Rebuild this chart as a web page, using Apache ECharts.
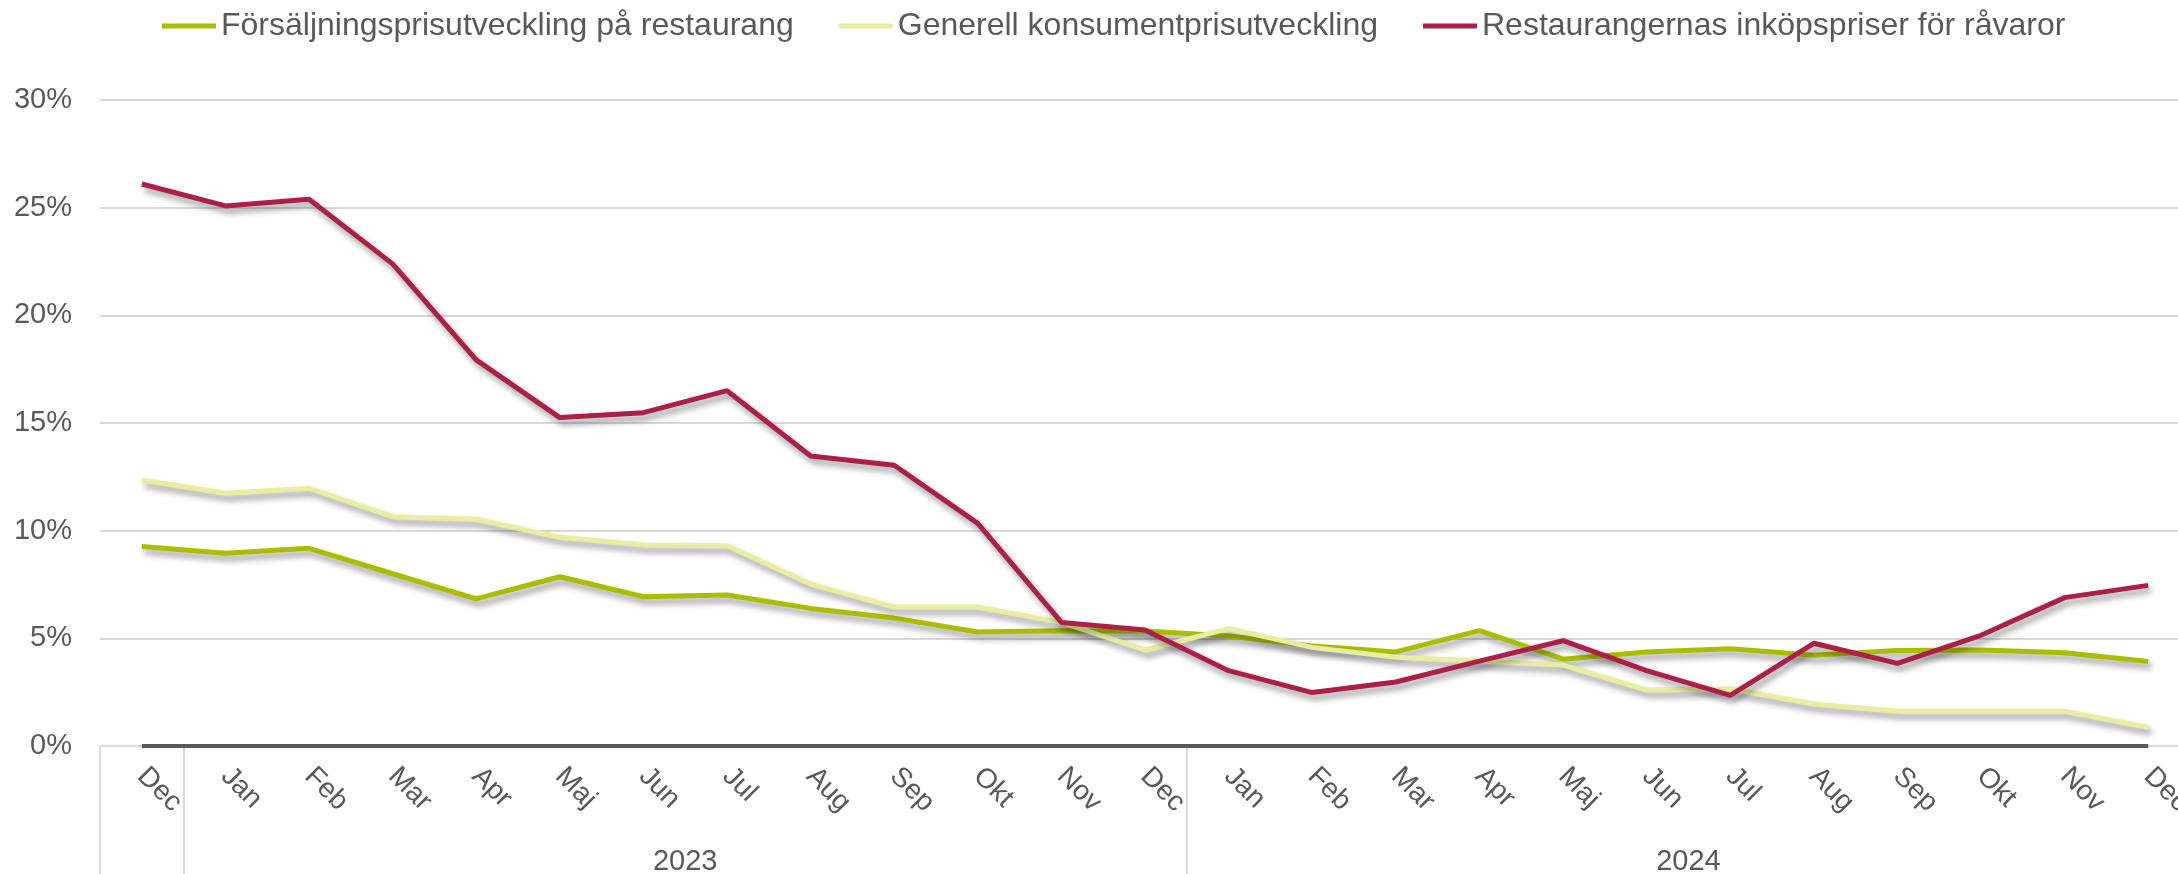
<!DOCTYPE html>
<html>
<head>
<meta charset="utf-8">
<script src="https://cdn.jsdelivr.net/npm/echarts@6/dist/echarts.min.js"></script>
<style>
  html, body { margin: 0; padding: 0; background: #fff; }
  #chart { width: 2178px; height: 874px; }
</style>
</head>
<body>
<div id="chart"></div>
<script>
// månader dec 2022 - dec 2024
const months = ['Dec', 'Jan', 'Feb', 'Mar', 'Apr', 'Maj', 'Jun', 'Jul', 'Aug', 'Sep', 'Okt', 'Nov', 'Dec',
  'Jan', 'Feb', 'Mar', 'Apr', 'Maj', 'Jun', 'Jul', 'Aug', 'Sep', 'Okt', 'Nov', 'Dec'];
const years = ['2023', '2024'];

const forsaljning = [9.26, 8.95, 9.18, 8.0, 6.83, 7.86, 6.93, 7.01, 6.39, 5.94, 5.29, 5.35, 5.34,
  5.11, 4.64, 4.37, 5.36, 4.03, 4.37, 4.52, 4.21, 4.43, 4.46, 4.33, 3.92];
const konsument = [12.35, 11.74, 11.97, 10.65, 10.53, 9.69, 9.34, 9.3, 7.52, 6.45, 6.45, 5.74, 4.46,
  5.45, 4.58, 4.12, 3.95, 3.76, 2.6, 2.66, 1.95, 1.61, 1.61, 1.61, 0.87];
const ravaror = [26.1, 25.08, 25.39, 22.39, 17.93, 15.25, 15.48, 16.5, 13.47, 13.04, 10.34, 5.74, 5.39,
  3.5, 2.48, 2.97, 3.94, 4.89, 3.5, 2.35, 4.77, 3.84, 5.14, 6.89, 7.46];

const names = ['Försäljningsprisutveckling på restaurang', 'Generell konsumentprisutveckling', 'Restaurangernas inköpspriser för råvaror'];
const colors = ['#A8BE00', '#E8EEA0', '#AD1F47'];

// var börjar varje år (första januari)
let yearStart = [];
months.forEach((m, i) => { if (m === 'Jan') yearStart.push(i); });
const yearCenters = yearStart.map(i => i + 5.5);
const yearBounds = [-0.5].concat(yearStart.map(i => i - 0.5));

const font = 'Liberation Sans, Arial, sans-serif';
const textColor = '#595959';

let chart = echarts.init(document.getElementById('chart'));

function lineSeries(name, data, color) {
  return {
    name: name,
    type: 'line',
    data: data,
    symbol: 'none',
    xAxisIndex: 0,
    lineStyle: {
      color: color,
      width: 5,
      shadowColor: 'rgba(0,0,0,0.4)',
      shadowBlur: 6,
      shadowOffsetX: 3,
      shadowOffsetY: 5
    },
    itemStyle: { color: color }
  };
}

let series = [
  lineSeries(names[0], forsaljning, colors[0]),
  lineSeries(names[1], konsument, colors[1]),
  lineSeries(names[2], ravaror, colors[2])
];
series[0].markLine = {
  silent: true,
  symbol: 'none',
  label: { show: false },
  lineStyle: { color: '#595959', width: 4, type: 'solid', shadowBlur: 0 },
  data: [[{ coord: [0, 0] }, { coord: [months.length - 1, 0] }]]
};

let option = {
  animation: false,
  textStyle: { fontFamily: font },
  legend: {
    top: 5,
    left: 157,
    itemGap: 45,
    itemWidth: 54,
    itemHeight: 5,
    icon: 'rect',
    textStyle: { fontSize: 32, color: textColor, fontFamily: font },
    data: names
  },
  // plotytan går lite utanför högerkanten, som i originalet
  grid: { left: 100, right: -12, top: 100, bottom: 128, containLabel: false, outerBoundsMode: 'none' },
  xAxis: [{
    type: 'category',
    data: months,
    boundaryGap: true,
    axisLine: { show: false },
    axisTick: { show: false },
    axisLabel: {
      rotate: -45,
      margin: 26,
      fontSize: 28,
      color: textColor,
      fontFamily: font,
      interval: 0
    }
  }, {
    type: 'value',
    position: 'bottom',
    min: -0.5,
    max: months.length - 0.5,
    axisLine: { show: false },
    splitLine: { show: false },
    axisTick: {
      show: true,
      length: 140,
      customValues: yearBounds,
      lineStyle: { color: '#d9d9d9', width: 2 }
    },
    axisLabel: {
      customValues: yearCenters,
      margin: 101,
      fontSize: 29,
      color: textColor,
      fontFamily: font,
      formatter: (v) => years[yearCenters.indexOf(v)] || ''
    }
  }],
  yAxis: {
    type: 'value',
    min: 0,
    max: 30,
    interval: 5,
    axisLine: { show: false },
    axisTick: { show: false },
    axisLabel: {
      formatter: '{value}%',
      margin: 28,
      fontSize: 29,
      color: textColor,
      fontFamily: font
    },
    splitLine: { lineStyle: { color: '#d9d9d9', width: 2 } }
  },
  series: series
};

chart.setOption(option);
</script>
</body>
</html>
